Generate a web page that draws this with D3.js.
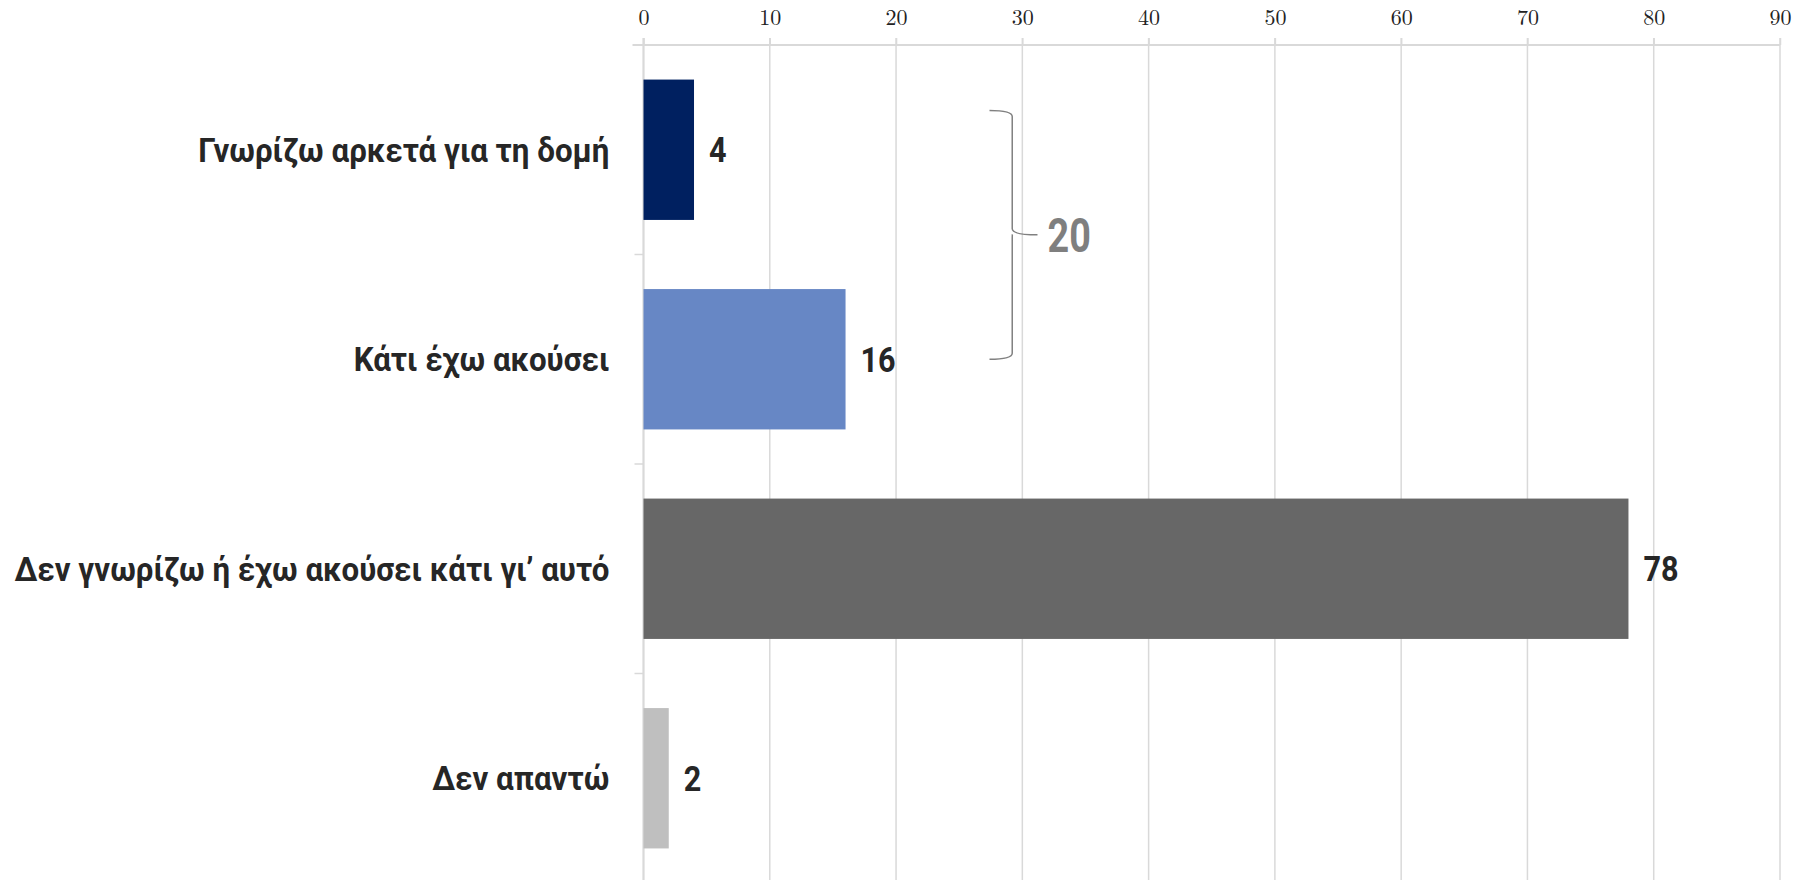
<!DOCTYPE html>
<html>
<head>
<meta charset="utf-8">
<script src="https://cdn.jsdelivr.net/npm/d3@7"></script>
<style>
  html, body { margin: 0; padding: 0; background: #ffffff; }
  svg { display: block; }
</style>
</head>
<body>
<svg id="chart" width="1801" height="880"></svg>
<script>
// Survey answers and their shares (%)
const categories = [
  "Γνωρίζω αρκετά για τη δομή",
  "Κάτι έχω ακούσει",
  "Δεν γνωρίζω ή έχω ακούσει κάτι γι’ αυτό",
  "Δεν απαντώ"
];
const values = [4, 16, 78, 2];
const barColors = ["#002060", "#6787c5", "#676767", "#bfbfbf"];
const xTicks = [0, 10, 20, 30, 40, 50, 60, 70, 80, 90];
// The two "aware" answers grouped together
const groupTotal = 20;

const svg = d3.select("#chart");
const W = 1801, H = 880;

const x = d3.scaleLinear().domain([0, 90]).range([643.5, 1780]);
const y = d3.scaleBand().domain(categories).range([45, 883]).paddingInner(0.33).paddingOuter(0.165);

const gridColor = "#d9d9d9";
const labelFont = "'Roboto', 'Liberation Sans', sans-serif";

// condensed bold text: draw with Roboto and squeeze horizontally
function condensedText(sel, opts) {
  sel.attr("transform", d => `translate(${opts.x(d)},${opts.y(d)}) scale(${opts.sx},1)`)
    .attr("dy", "0.35em")
    .attr("text-anchor", opts.anchor || "start")
    .attr("fill", opts.fill)
    .style("font-family", labelFont)
    .style("font-weight", "bold")
    .style("font-size", opts.size + "px");
}

// vertical gridlines
svg.append("g")
  .selectAll("line")
  .data(xTicks)
  .join("line")
  .attr("x1", d => x(d)).attr("x2", d => x(d))
  .attr("y1", 38).attr("y2", H)
  .attr("stroke", gridColor).attr("stroke-width", 1.5);

// top value axis
const xAxis = svg.append("g")
  .attr("transform", "translate(0,45)")
  .call(d3.axisTop(x).tickValues(xTicks).tickSize(7).tickPadding(13));
xAxis.select(".domain").remove();
xAxis.append("line")
  .attr("x1", x(0) - 11).attr("x2", x(90)).attr("y1", 0).attr("y2", 0)
  .attr("stroke", gridColor).attr("stroke-width", 2);
xAxis.selectAll(".tick line").attr("stroke", gridColor).attr("stroke-width", 1.5);
xAxis.selectAll(".tick text")
  .attr("fill", "#222")
  .style("font-family", "'Latin Modern Roman', 'CMU Serif', 'DejaVu Serif', serif")
  .style("font-size", "22px");

// category axis on the left
const yAxis = svg.append("g")
  .attr("transform", `translate(${x(0)},0)`);
yAxis.append("line")
  .attr("x1", 0).attr("x2", 0).attr("y1", 38).attr("y2", H)
  .attr("stroke", gridColor).attr("stroke-width", 2);
const step = y.step();
const boundaries = categories.slice(1).map(c => y(c) - (step - y.bandwidth()) / 2);
yAxis.selectAll("line.sep")
  .data(boundaries)
  .join("line")
  .attr("class", "sep")
  .attr("x1", -9).attr("x2", 0)
  .attr("y1", d => d).attr("y2", d => d)
  .attr("stroke", gridColor).attr("stroke-width", 1.5);

yAxis.selectAll("text.cat")
  .data(categories)
  .join("text")
  .attr("class", "cat")
  .call(condensedText, {
    x: () => -34,
    y: d => y(d) + y.bandwidth() / 2,
    sx: 0.92, size: 34, anchor: "end", fill: "#262626"
  })
  .text(d => d);

// bars
svg.append("g")
  .selectAll("rect")
  .data(values)
  .join("rect")
  .attr("x", x(0))
  .attr("y", (d, i) => y(categories[i]))
  .attr("width", d => x(d) - x(0))
  .attr("height", y.bandwidth())
  .attr("fill", (d, i) => barColors[i]);

// value labels
svg.append("g")
  .selectAll("text")
  .data(values.map((v, i) => ({ v, c: categories[i] })))
  .join("text")
  .call(condensedText, {
    x: d => x(d.v) + 15,
    y: d => y(d.c) + y.bandwidth() / 2,
    sx: 0.85, size: 36, fill: "#262626"
  })
  .text(d => d.v);

// brace grouping the first two answers
const bTop = y(categories[0]) + y.bandwidth() * 0.22;
const bBot = y(categories[1]) + y.bandwidth() * 0.5;
const bMid = (bTop + bBot) / 2;
const xs = x(27.4), xv = x(29.2), xt = x(31.2);
const r = 6;
const brace = d3.path();
brace.moveTo(xs, bTop);
brace.quadraticCurveTo(xv, bTop, xv, bTop + r);
brace.lineTo(xv, bMid - r);
brace.quadraticCurveTo(xv, bMid, xt, bMid);
brace.moveTo(xv + 0.2, bMid - 0.5);
brace.quadraticCurveTo(xv, bMid, xv, bMid + r);
brace.lineTo(xv, bBot - r);
brace.quadraticCurveTo(xv, bBot, xs, bBot);
svg.append("path")
  .attr("d", brace.toString())
  .attr("fill", "none")
  .attr("stroke", "#808080")
  .attr("stroke-width", 1.5);

svg.append("text")
  .datum(groupTotal)
  .call(condensedText, {
    x: () => x(32), y: () => bMid,
    sx: 0.77, size: 49, fill: "#7f7f7f"
  })
  .text(d => d);
</script>
</body>
</html>
